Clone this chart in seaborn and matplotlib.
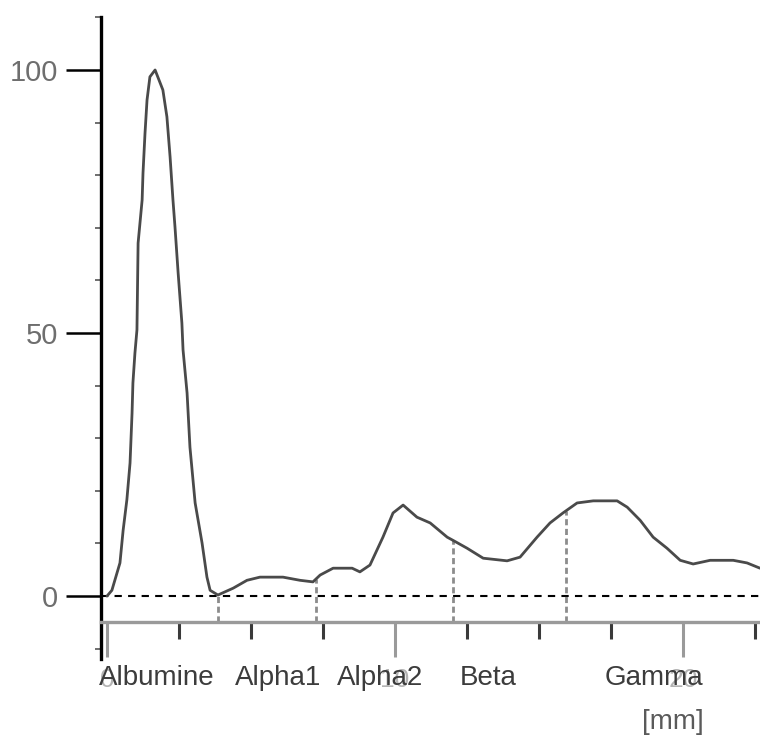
import numpy as np
import pandas as pd
import matplotlib
matplotlib.use("Agg")
import matplotlib.pyplot as plt
from matplotlib.ticker import MultipleLocator
import seaborn as sns

# Densitometry trace of serum protein electrophoresis (distance in mm, relative intensity)
distance_mm = [0.00, 0.17, 0.45, 0.56, 0.69, 0.80, 0.87, 0.90, 0.97, 1.04, 1.08,
               1.22, 1.25, 1.32, 1.39, 1.49, 1.67, 1.94, 2.08, 2.19, 2.29, 2.36,
               2.47, 2.60, 2.64, 2.78, 2.88, 3.06, 3.30, 3.47, 3.58, 3.85, 4.38,
               4.86, 5.31, 6.11, 6.70, 7.15, 7.40, 7.85, 8.51, 8.78, 9.13, 9.58,
               9.93, 10.28, 10.76, 11.22, 11.81, 12.01, 12.50, 13.06, 13.89,
               14.34, 14.93, 15.38, 15.83, 16.32, 16.88, 17.71, 18.06, 18.51,
               18.96, 19.44, 19.90, 20.35, 20.94, 21.74, 22.22, 22.67]
intensity = [0.0, 1.1, 6.3, 12.5, 18.3, 25.3, 34.8, 40.5, 46.2, 50.6, 67.1,
             75.3, 80.4, 88.0, 94.3, 98.7, 100.0, 96.2, 91.1, 83.5, 75.3, 70.2,
             61.4, 51.9, 46.8, 38.6, 28.3, 17.7, 10.1, 3.6, 1.1, 0.2, 1.5,
             3.0, 3.6, 3.6, 3.0, 2.7, 4.0, 5.3, 5.3, 4.6, 5.9, 11.2,
             15.8, 17.3, 15.0, 13.9, 11.2, 10.6, 9.1, 7.2, 6.7,
             7.4, 11.2, 13.9, 15.8, 17.7, 18.1, 18.1, 16.9, 14.4,
             11.2, 9.1, 6.8, 6.1, 6.8, 6.8, 6.3, 5.3]

# Fraction boundaries (mm) and fraction names
boundaries_mm = [3.85, 7.26, 12.01, 15.94]
fractions = ["Albumine", "Alpha1", "Alpha2", "Beta", "Gamma"]
fraction_label_x = [1.72, 5.95, 9.48, 13.25, 18.98]

y_ticks = [0, 50, 100]
x_ticks = [0, 10, 20]
x_unit = "[mm]"

df = pd.DataFrame({"distance": distance_mm, "intensity": intensity})

sns.set_theme(style="white")
plt.rcParams["font.family"] = ["Liberation Sans", "DejaVu Sans"]

fig = plt.figure(figsize=(7.6, 7.37), dpi=100)
ax = fig.add_axes([90 / 760, 72 / 737, 670 / 760, 655 / 737])

x_lo, x_hi = -0.59, 22.67
y_lo, y_hi = -13.1, 111.4
ax.set_xlim(x_lo, x_hi)
ax.set_ylim(y_lo, y_hi)

axis_y = -4.9   # height of the distance axis
axis_x = -0.21  # position of the intensity axis

# zero baseline
ax.plot([axis_x, x_hi], [0, 0], color="black", lw=1.5,
        linestyle=(0, (3.5, 3)), zorder=2)

# fraction dividers
for b in boundaries_mm:
    top = np.interp(b, distance_mm, intensity)
    ax.plot([b, b], [axis_y, top], color="#8c8c8c", lw=2.0,
            linestyle=(0, (2.2, 1.3)), zorder=2)

# trace
sns.lineplot(data=df, x="distance", y="intensity", ax=ax, color="#4a4a4a",
             lw=2.0, zorder=3, estimator=None, sort=True)

# spines
for s in ["top", "right"]:
    ax.spines[s].set_visible(False)
ax.spines["left"].set_position(("data", axis_x))
ax.spines["left"].set_bounds(-12, 110)
ax.spines["left"].set_color("black")
ax.spines["left"].set_linewidth(2.4)
ax.spines["bottom"].set_position(("data", axis_y))
ax.spines["bottom"].set_bounds(axis_x, x_hi)
ax.spines["bottom"].set_color("#9a9a9a")
ax.spines["bottom"].set_linewidth(2.4)

# y ticks
ax.set_yticks(y_ticks)
ax.set_yticklabels([str(v) for v in y_ticks])
ax.yaxis.set_minor_locator(MultipleLocator(10))
ax.tick_params(axis="y", which="major", direction="out", length=25, width=1.8,
               color="black", pad=6, labelsize=21, labelcolor="#6e6e6e", left=True)
ax.tick_params(axis="y", which="minor", direction="out", length=4, width=1.2,
               color="#555555", left=True)

# x ticks
ax.set_xticks(x_ticks)
ax.set_xticklabels([str(v) for v in x_ticks])
ax.xaxis.set_minor_locator(MultipleLocator(2.5))
ax.tick_params(axis="x", which="major", direction="out", length=25, width=2.2,
               color="#9a9a9a", pad=8, labelsize=19, labelcolor="#b4b4b4",
               bottom=True)
ax.tick_params(axis="x", which="minor", direction="out", length=12, width=2.2,
               color="#3a3a3a", bottom=True)

ax.set_xlabel("")
ax.set_ylabel("")
ax.grid(False)

# fraction names
for name, xp in zip(fractions, fraction_label_x):
    ax.text(xp, -16.9, name, ha="center", va="baseline", fontsize=20,
            color="#3c3c3c", clip_on=False, zorder=5)
ax.text(19.64, -25.3, x_unit, ha="center", va="baseline", fontsize=20,
        color="#5a5a5a", clip_on=False)

fig.savefig("out.png", dpi=100)
